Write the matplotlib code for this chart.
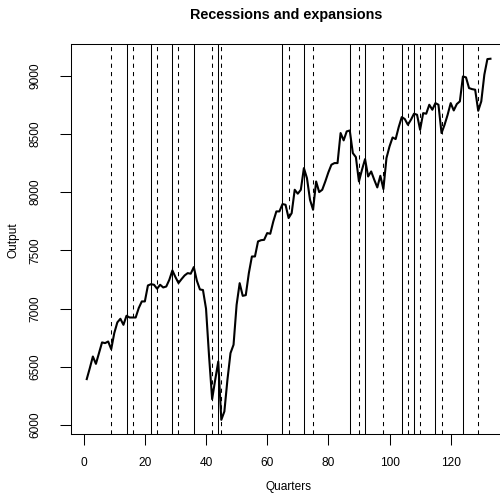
import numpy as np
import matplotlib
matplotlib.use('Agg')
import matplotlib.pyplot as plt

plt.rcParams['font.family'] = ['Liberation Sans', 'DejaVu Sans']

# Output series, one value per quarter
output = [6395, 6489, 6589, 6526, 6618, 6710, 6704, 6718, 6652, 6790,
          6882, 6913, 6861, 6939, 6924, 6924, 6924, 7005, 7062, 7062,
          7199, 7210, 7205, 7171, 7205, 7182, 7190, 7248, 7328, 7271,
          7220, 7254, 7285, 7305, 7300, 7357, 7240, 7165, 7160, 7000,
          6589, 6223, 6389, 6546, 6045, 6117, 6389, 6618, 6690, 7033,
          7219, 7110, 7116, 7305, 7448, 7448, 7577, 7588, 7591, 7649,
          7643, 7749, 7835, 7835, 7898, 7892, 7778, 7820, 8021, 7987,
          8021, 8207, 8121, 7935, 7849, 8092, 8001, 8021, 8092, 8170,
          8236, 8250, 8250, 8508, 8445, 8522, 8530, 8336, 8301, 8092,
          8193, 8284, 8135, 8178, 8107, 8041, 8141, 8027, 8293, 8393,
          8470, 8456, 8559, 8645, 8628, 8579, 8622, 8674, 8665, 8536,
          8679, 8674, 8751, 8708, 8765, 8751, 8508, 8579, 8665, 8765,
          8702, 8757, 8780, 8994, 8986, 8894, 8885, 8880, 8699, 8780,
          9009, 9143, 9146]
quarters = np.arange(1, len(output) + 1)

# Turning points
peaks = [14, 22, 29, 36, 44, 65, 72, 87, 92, 104, 108, 115, 124]
troughs = [9, 16, 24, 31, 42, 45, 67, 75, 90, 98, 106, 110, 117, 129]

x_ticks = [0, 20, 40, 60, 80, 100, 120]
y_ticks = [6000, 6500, 7000, 7500, 8000, 8500, 9000]

fig = plt.figure(figsize=(5.0, 4.97), dpi=100)
# plot region runs past the right edge, like the cropped original
ax = fig.add_axes([70.6 / 500, 62.7 / 497, 436 / 500, 390 / 497])

ax.plot(quarters, output, color='black', lw=1.5)
for p in peaks:
    ax.axvline(p, color='black', lw=0.75)
for t in troughs:
    ax.axvline(t, color='black', lw=0.75, linestyle=(0, (4, 4)))

# R style 4% padding
xr = quarters.max() - quarters.min()
ax.set_xlim(quarters.min() - 0.04 * xr, quarters.max() + 0.04 * xr)
yr = max(output) - min(output)
ax.set_ylim(min(output) - 0.04 * yr, max(output) + 0.04 * yr)

ax.set_xticks(x_ticks)
ax.set_yticks(y_ticks)
ax.set_yticklabels([str(v) for v in y_ticks], rotation=90, va='center')
ax.tick_params(axis='both', direction='out', length=8, width=0.75, labelsize=8.6)
ax.tick_params(axis='x', pad=8)
ax.tick_params(axis='y', pad=13)
for s in ax.spines.values():
    s.set_linewidth(0.75)

fig.text(286 / 500, 1 - 15 / 497, 'Recessions and expansions',
         ha='center', va='center', fontsize=10.4, fontweight='bold')
fig.text(288 / 500, 1 - 487 / 497, 'Quarters', ha='center', va='center', fontsize=8.6)
fig.text(13 / 500, 1 - 240 / 497, 'Output', ha='center', va='center', fontsize=8.6, rotation=90)

plt.savefig('out.png', dpi=100)
